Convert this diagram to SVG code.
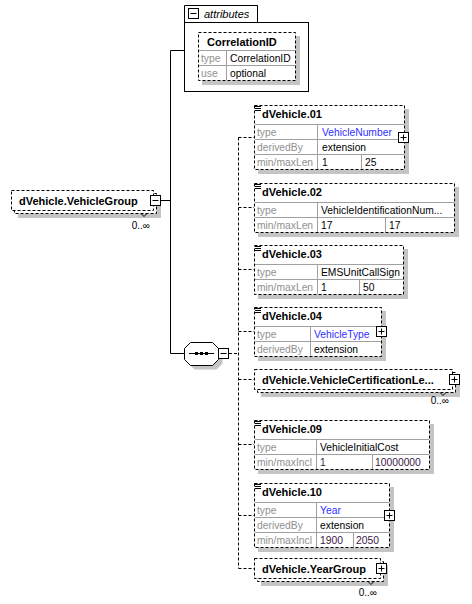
<svg xmlns="http://www.w3.org/2000/svg" width="472" height="604" viewBox="0 0 472 604">
  <style>
    .frame { fill: #fff; stroke: #000; stroke-width: 1; stroke-dasharray: 3 2; }
    .solid { fill: none; stroke: #000; stroke-width: 1; }
    .dash { fill: none; stroke: #000; stroke-width: 1; stroke-dasharray: 3 2; }
    .grid { fill: none; stroke: #a0a0a0; stroke-width: 1; }
    .shadow { fill: #c4c4c4; }
    .btn { fill: #fff; stroke: #000; stroke-width: 1; }
    .sign { stroke: #000; stroke-width: 1; }
    .hdr { font-family: "Liberation Sans", Arial, sans-serif; font-size: 11px; font-weight: bold; fill: #000; }
    .lbl { font-family: "Liberation Sans", Arial, sans-serif; font-size: 10.3px; fill: #909090; }
    .val { font-family: "Liberation Sans", Arial, sans-serif; font-size: 10.3px; fill: #000; }
    .typ { fill: #3030ff; }
    .num { fill: #3a1848; }
    .occ { font-family: "Liberation Sans", Arial, sans-serif; font-size: 10px; fill: #000; text-anchor: end; }
    .ital { font-family: "Liberation Sans", Arial, sans-serif; font-size: 11px; font-style: italic; fill: #000; }
  </style>
  <defs>
    <g id="icon-doc">
      <path class="sign" d="M0 0.5h6M0 2.5h6M0 4.5h6"/>
    </g>
    <g id="btn-plus">
      <rect class="btn" x="0.5" y="0.5" width="10" height="10"/>
      <path class="sign" d="M2.5 5.5h6M5.5 2.5v6"/>
    </g>
    <g id="btn-minus">
      <rect class="btn" x="0.5" y="0.5" width="10" height="10"/>
      <path class="sign" d="M2.5 5.5h6"/>
    </g>
  </defs>

  <!-- connectors -->
  <g id="connectors">
    <path class="solid" d="M161 200.5H170.5M170.5 50.5V353.5M170.5 50.5H184.5M170.5 353.5H184.5"/>
    <path class="dash" d="M229 353.5H238.5M238.5 137.5V568.5"/>
    <path class="dash" d="M238.5 137.5H254M238.5 207.5H254M238.5 269.5H254M238.5 331.5H254M238.5 379.5H254M238.5 444.5H254M238.5 515.5H254M238.5 568.5H254"/>
  </g>

  <!-- attributes of the group -->
  <g id="attributes">
    <path class="solid" d="M184.5 22.5V5.5H257.5V22.5"/>
    <rect class="solid" x="184.5" y="22.5" width="124" height="69"/>
    <use href="#btn-minus" x="188" y="8"/>
    <text class="ital" x="204" y="18">attributes</text>
  </g>

  <g id="CorrelationID">
    <rect class="shadow" x="202" y="36" width="98" height="49"/>
    <rect class="frame" x="198.5" y="32.5" width="97" height="48"/>
    <path class="grid" d="M199 50.5H295M199 65.5H295M226.5 50.5V80"/>
    <text class="hdr" x="207" y="46">CorrelationID</text>
    <text class="lbl" x="201" y="62">type</text>
    <text class="val" x="230" y="62">CorrelationID</text>
    <text class="lbl" x="201" y="77">use</text>
    <text class="val" x="230" y="77">optional</text>
  </g>

  <!-- group reference -->
  <g id="VehicleGroup">
    <rect class="shadow" x="18" y="197" width="143" height="21"/>
    <rect class="frame" x="14.5" y="193.5" width="142" height="20"/>
    <rect class="frame" x="11.5" y="190.5" width="142" height="20"/>
    <path class="solid" d="M141 213.5l3 3 3-3"/>
    <text class="hdr" x="19" y="204.5">dVehicle.VehicleGroup</text>
    <use href="#btn-minus" x="150" y="195"/>
    <text class="occ" x="150" y="229">0..∞</text>
  </g>

  <!-- sequence compositor -->
  <g id="sequence">
    <polygon class="shadow" points="194.5,346.5 216.5,346.5 222.5,352.5 222.5,363.5 216.5,369.5 194.5,369.5 188.5,363.5 188.5,352.5"/>
    <polygon class="btn" points="190.5,342.5 212.5,342.5 218.5,348.5 218.5,359.5 212.5,365.5 190.5,365.5 184.5,359.5 184.5,348.5"/>
    <path class="sign" d="M189 353.5H214"/>
    <rect x="195" y="352" width="3" height="3" fill="#000"/>
    <rect x="200" y="352" width="3" height="3" fill="#000"/>
    <rect x="205" y="352" width="3" height="3" fill="#000"/>
    <use href="#btn-minus" x="218" y="348"/>
  </g>

  <!-- elements -->
  <g id="dVehicle.01">
    <rect class="shadow" x="258" y="109" width="151" height="65"/>
    <rect class="frame" x="254.5" y="105.5" width="150" height="64"/>
    <path class="grid" d="M255 124.5H404M255 139.5H404M255 154.5H404M317.5 124.5V169M361.5 154.5V169"/>
    <use href="#icon-doc" x="255" y="106"/>
    <text class="hdr" x="262" y="118">dVehicle.01</text>
    <text class="lbl" x="257" y="135.5">type</text>
    <text class="val typ" x="322" y="135.5">VehicleNumber</text>
    <text class="lbl" x="257" y="150.5">derivedBy</text>
    <text class="val" x="322" y="150.5">extension</text>
    <text class="lbl" x="257" y="165.5">min/maxLen</text>
    <text class="val" x="322" y="165.5">1</text>
    <text class="val" x="365" y="165.5">25</text>
    <use href="#btn-plus" x="398" y="132"/>
  </g>

  <g id="dVehicle.02">
    <rect class="shadow" x="258" y="187" width="201" height="50"/>
    <rect class="frame" x="254.5" y="183.5" width="200" height="49"/>
    <path class="grid" d="M255 202.5H454M255 217.5H454M317.5 202.5V232M385.5 217.5V232"/>
    <use href="#icon-doc" x="255" y="184"/>
    <text class="hdr" x="262" y="196">dVehicle.02</text>
    <text class="lbl" x="257" y="213.5">type</text>
    <text class="val" x="321" y="213.5">VehicleIdentificationNum...</text>
    <text class="lbl" x="257" y="228.5">min/maxLen</text>
    <text class="val" x="321" y="228.5">17</text>
    <text class="val" x="389" y="228.5">17</text>
  </g>

  <g id="dVehicle.03">
    <rect class="shadow" x="258" y="249" width="150" height="50"/>
    <rect class="frame" x="254.5" y="245.5" width="149" height="49"/>
    <path class="grid" d="M255 264.5H403M255 279.5H403M317.5 264.5V294M359.5 279.5V294"/>
    <use href="#icon-doc" x="255" y="246"/>
    <text class="hdr" x="262" y="258">dVehicle.03</text>
    <text class="lbl" x="257" y="275.5">type</text>
    <text class="val" x="321" y="275.5">EMSUnitCallSign</text>
    <text class="lbl" x="257" y="290.5">min/maxLen</text>
    <text class="val" x="321" y="290.5">1</text>
    <text class="val" x="363" y="290.5">50</text>
  </g>

  <g id="dVehicle.04">
    <rect class="shadow" x="258" y="311" width="128" height="50"/>
    <rect class="frame" x="254.5" y="307.5" width="127" height="49"/>
    <path class="grid" d="M255 326.5H381M255 341.5H381M310.5 326.5V356"/>
    <use href="#icon-doc" x="255" y="308"/>
    <text class="hdr" x="262" y="320">dVehicle.04</text>
    <text class="lbl" x="257" y="337.5">type</text>
    <text class="val typ" x="314" y="337.5">VehicleType</text>
    <text class="lbl" x="257" y="352.5">derivedBy</text>
    <text class="val" x="314" y="352.5">extension</text>
    <use href="#btn-plus" x="376" y="326"/>
  </g>

  <g id="VehicleCertificationLevelGroup">
    <rect class="shadow" x="261" y="376" width="199" height="21"/>
    <rect class="frame" x="257.5" y="372.5" width="198" height="20"/>
    <rect class="frame" x="254.5" y="369.5" width="198" height="20"/>
    <path class="solid" d="M440 392.5l3 3 3-3"/>
    <text class="hdr" x="262" y="383.5">dVehicle.VehicleCertificationLe...</text>
    <use href="#btn-plus" x="449" y="374"/>
    <text class="occ" x="449" y="404">0..∞</text>
  </g>

  <g id="dVehicle.09">
    <rect class="shadow" x="258" y="424" width="176" height="50"/>
    <rect class="frame" x="254.5" y="420.5" width="175" height="49"/>
    <path class="grid" d="M255 439.5H429M255 454.5H429M316.5 439.5V469M372.5 454.5V469"/>
    <use href="#icon-doc" x="255" y="421"/>
    <text class="hdr" x="262" y="433">dVehicle.09</text>
    <text class="lbl" x="257" y="450.5">type</text>
    <text class="val" x="320" y="450.5">VehicleInitialCost</text>
    <text class="lbl" x="257" y="465.5">min/maxIncl</text>
    <text class="val num" x="320" y="465.5">1</text>
    <text class="val num" x="375" y="465.5">10000000</text>
  </g>

  <g id="dVehicle.10">
    <rect class="shadow" x="258" y="487" width="136" height="65"/>
    <rect class="frame" x="254.5" y="483.5" width="135" height="64"/>
    <path class="grid" d="M255 502.5H389M255 517.5H389M255 532.5H389M316.5 502.5V547M353.5 532.5V547"/>
    <use href="#icon-doc" x="255" y="484"/>
    <text class="hdr" x="262" y="496">dVehicle.10</text>
    <text class="lbl" x="257" y="513.5">type</text>
    <text class="val typ" x="320" y="513.5">Year</text>
    <text class="lbl" x="257" y="528.5">derivedBy</text>
    <text class="val" x="320" y="528.5">extension</text>
    <text class="lbl" x="257" y="543.5">min/maxIncl</text>
    <text class="val num" x="320" y="543.5">1900</text>
    <text class="val num" x="356" y="543.5">2050</text>
    <use href="#btn-plus" x="384" y="510"/>
  </g>

  <g id="YearGroup">
    <rect class="shadow" x="261" y="565" width="127" height="21"/>
    <rect class="frame" x="257.5" y="561.5" width="126" height="20"/>
    <rect class="frame" x="254.5" y="558.5" width="126" height="20"/>
    <path class="solid" d="M368 581.5l3 3 3-3"/>
    <text class="hdr" x="262" y="572.5">dVehicle.YearGroup</text>
    <use href="#btn-plus" x="376" y="563"/>
    <text class="occ" x="377" y="596">0..∞</text>
  </g>
</svg>
